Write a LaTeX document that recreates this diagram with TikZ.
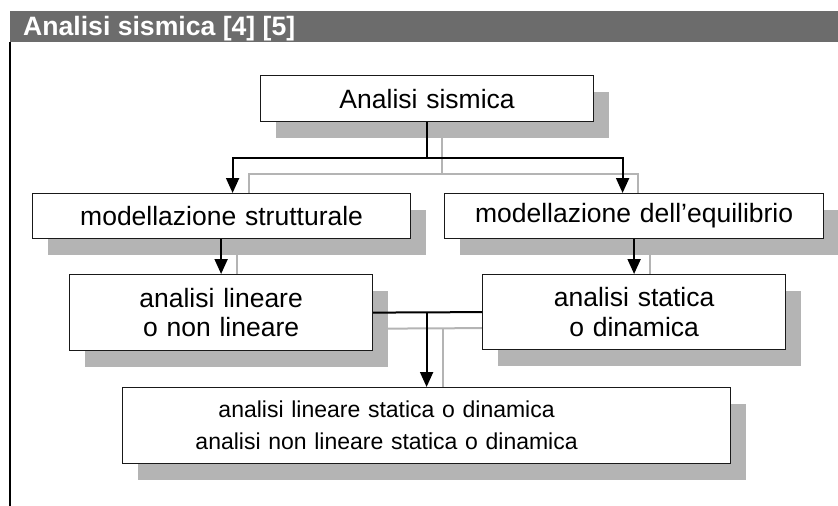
\documentclass[tikz,border=0pt]{standalone}
\usepackage{fontspec}
\setmainfont{Liberation Sans}
\usetikzlibrary{arrows.meta,shadows,backgrounds}
\definecolor{shgray}{RGB}{180,180,180}
\definecolor{bargray}{RGB}{108,108,108}
\definecolor{edgecol}{RGB}{25,25,25}
\tikzset{
  box/.style={draw=edgecol, line width=1.2pt, fill=white, inner sep=0pt, anchor=north west, align=center,
    font=\fontsize{26.5}{29.5}\selectfont,
    drop shadow={shadow xshift=15pt, shadow yshift=-16pt, fill=shgray, opacity=1}},
  conn/.style={line width=2pt, black},
  arr/.style={conn, -{Triangle[length=15pt,width=13pt]}},
  shline/.style={line width=2pt, shgray},
}
\begin{document}
\begin{tikzpicture}[x=1pt,y=-1pt]
\useasboundingbox (0,0) rectangle (838,506);
% title bar and frame
\fill[bargray] (10,11) rectangle (838,42);
\node[anchor=base west, inner sep=0pt, text=white, font=\bfseries\fontsize{26.6}{30}\selectfont] (title) at (23,35) {Analisi sismica [4] [5]};
\draw[line width=2pt, black] (10,42) -- (10,506);
% boxes
\node[box, text width=333pt, minimum height=46pt] (s) at (260,75) {Analisi sismica};
\node[box, text width=378pt, minimum height=45pt] (ms) at (32,193) {modellazione strutturale};
\node[box, text width=379pt, minimum height=45pt] (me) at (444,193) {modellazione dell’equilibrio};
\node[box, text width=303pt, minimum height=76pt] (al) at (69,274) {analisi lineare\\o non lineare};
\node[box, text width=303pt, minimum height=75pt] (as) at (482,274) {analisi statica\\o dinamica};
\node[box, text width=608pt, minimum height=76pt, align=left, font=\fontsize{23}{32}\selectfont] (fin) at (122,387) {\makebox[528pt][c]{analisi lineare statica o dinamica}\\\makebox[528pt][c]{analisi non lineare statica o dinamica}};
% shadow connectors
\begin{pgfonlayer}{background}
\draw[shline] ([shift={(15,16)}]s.south) -- ++(0,36) -| ([xshift=27pt]ms.north);
\draw[shline] ([shift={(15,16)}]s.south) -- ++(0,36) -| ([xshift=3.5pt]me.north);
\draw[shline] ([xshift=16pt]al.north |- ms.south) -- ([xshift=16pt]al.north);
\draw[shline] ([xshift=16pt]as.north |- me.south) -- ([xshift=16pt]as.north);
\draw[shline] ([shift={(15,16)}]al.east) -- ([shift={(0,16)}]as.west);
\draw[shline] ([shift={(16,16)}]al.east -| fin.north) -- ([xshift=16pt]fin.north);
\end{pgfonlayer}
% connectors
\draw[arr] (s.south) -- ++(0,36) -| ([xshift=11pt]ms.north);
\draw[arr] (s.south) -- ++(0,36) -| ([xshift=-11.5pt]me.north);
\draw[arr] (al.north |- ms.south) -- (al.north);
\draw[arr] (as.north |- me.south) -- (as.north);
\draw[conn] (al.east) -- (as.west);
\draw[arr] (al.east -| fin.north) -- (fin.north);
\end{tikzpicture}
\end{document}
